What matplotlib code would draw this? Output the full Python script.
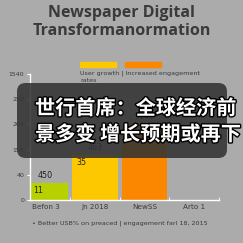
import matplotlib.pyplot as plt
import matplotlib.patheffects as pe
from matplotlib.patches import FancyBboxPatch, Rectangle

categorias = ['Befon 3', 'Jn 2018', 'NewSS', 'Arto 1']
alturas = [0.67, 1.79, 3.0]
rotulos_topo = ['450', '463', '5143']
rotulos_dentro = ['11', '35', '']
cores = ['#b6d000', '#fdc800', '#fb8700']
yticks_rotulos = ['0', '40', '155', '205', '250', '1540']

titulo = 'Newspaper Digital\nTransformanormation'
legenda = 'User growth | Increased engagement\nrates'
nota = '• Better USB% on preaced | engagement farl 18, 2015'
sobreposicao = '世行首席：全球经济前\n景多变 增长预期或再下'

fundo = '#ababab'
texto_escuro = '#3a3a3a'

fig = plt.figure(figsize=(2.43, 2.43), dpi=100)
fig.patch.set_facecolor(fundo)

ax = fig.add_axes([30 / 243, 1 - 200 / 243, 189 / 243, 126 / 243])
ax.set_facecolor(fundo)

xpos = list(range(len(alturas)))
ax.bar(xpos, alturas, width=0.91, color=cores, zorder=2)

for x, h, t, d in zip(xpos, alturas, rotulos_topo, rotulos_dentro):
    ax.text(x, h + 0.12, t, ha='center', va='bottom', fontsize=5.8, color='#222222')
    if d:
        ax.text(x - 0.38 if x > 0 else -0.24, h - 0.12, d, ha='left', va='top',
                fontsize=5.8, color='#222222', zorder=3)

ax.set_xlim(-0.31, 3.5)
ax.set_ylim(0, 5)
ax.set_xticks(range(len(categorias)))
ax.set_xticklabels(categorias, fontsize=5.2, color=texto_escuro)
ax.set_xticks([0.5, 1.5, 2.5, 3.5], minor=True)
ax.tick_params(axis='x', which='major', length=0, pad=3)
ax.tick_params(axis='x', which='minor', length=2.5, color='white', direction='in')
ax.set_yticks(range(len(yticks_rotulos)))
ax.set_yticklabels(yticks_rotulos, fontsize=4.5, color=texto_escuro)
ax.tick_params(axis='y', length=2, color='white', pad=2)

for lado in ['top', 'right']:
    ax.spines[lado].set_visible(False)
for lado in ['left', 'bottom']:
    ax.spines[lado].set_color('white')
    ax.spines[lado].set_linewidth(1.0)

fig.text(0.5, 1 - 22 / 243, titulo, ha='center', va='center', fontsize=11.5,
         fontweight='bold', color=texto_escuro, linespacing=1.15, family='Open Sans')

fig.add_artist(Rectangle((80 / 243, 1 - 67 / 243), 36 / 243, 5 / 243,
                         transform=fig.transFigure, color='#fdc800'))
fig.add_artist(Rectangle((125 / 243, 1 - 67 / 243), 36 / 243, 5 / 243,
                         transform=fig.transFigure, color='#fb8700'))
fig.text(80 / 243, 1 - 70 / 243, legenda, ha='left', va='top', fontsize=4.6,
         color=texto_escuro, linespacing=1.5)

fig.text(32 / 243, 1 - 223 / 243, nota, ha='left', va='center', fontsize=4.6,
         color=texto_escuro)

caixa = FancyBboxPatch((17 / 243, 1 - 158 / 243), 210 / 243, 75 / 243,
                       boxstyle='round,pad=0,rounding_size=0.035',
                       transform=fig.transFigure, facecolor='#333333',
                       edgecolor='none', alpha=0.88, zorder=5)
fig.add_artist(caixa)

fig.text(35 / 243, 1 - 121 / 243, sobreposicao, ha='left', va='center',
         fontsize=14.5, fontweight='bold', color='white', linespacing=1.3,
         family=['Noto Sans CJK SC', 'DejaVu Sans'], zorder=6,
         path_effects=[pe.Stroke(linewidth=2, foreground='black'), pe.Normal()])

fig.savefig('out.png', dpi=100, facecolor=fundo)
